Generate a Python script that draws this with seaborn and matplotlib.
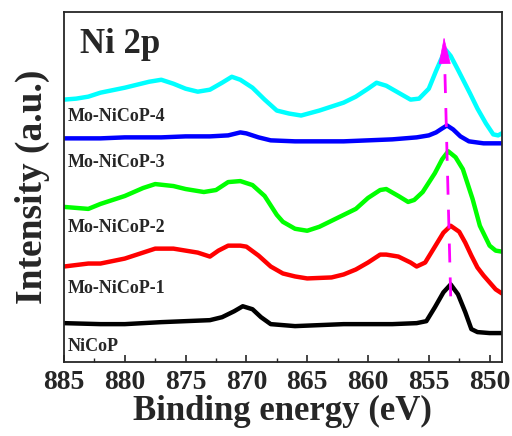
import numpy as np
import pandas as pd
import seaborn as sns
import matplotlib.pyplot as plt
from matplotlib.ticker import MultipleLocator

# Ni 2p XPS spectra (binding energy in eV, stacked intensity in a.u.)
e_nicop = [885, 882, 880, 877, 875, 873, 872, 871, 870.3, 869.5, 868.8, 868, 866, 864, 862,
           860, 858, 856, 855.2, 854.5, 853.8, 853.2, 852.6, 852.0, 851.5, 851, 850, 849]
i_nicop = [39, 38, 38, 40, 41, 42, 45, 51, 56, 53, 45, 38, 36, 37, 38,
           38, 38, 39, 41, 55, 70, 78, 68, 50, 33, 30, 29, 29]

e_mo1 = [885, 883, 882, 880, 878.5, 877.5, 876, 875, 874, 873, 872.3, 871.5, 870.5, 870, 869,
         868, 867, 866, 865, 863, 862, 861, 860, 859, 858.5, 857.5, 856.5, 856, 855.3, 854.5,
         853.8, 853.2, 852.5, 852, 851.5, 851, 850.5, 850, 849.5, 849]
i_mo1 = [96, 99, 99, 104, 110, 114, 114, 112, 110, 106, 112, 117, 117, 116, 107,
         96, 89, 86, 84, 85, 88, 93, 100, 108, 108, 106, 100, 96, 100, 116,
         130, 137, 131, 120, 107, 95, 87, 80, 73, 69]

e_mo2 = [885, 884, 883, 882, 880, 878.5, 877.5, 876, 875, 873.5, 872.5, 871.5, 870.5, 869.5,
         868.5, 867.5, 867, 866, 865, 864, 863, 862, 861, 860, 859, 858.5, 857.5, 856.7, 856.2,
         855.5, 854.5, 853.9, 853.4, 852.8, 852.2, 851.4, 850.8, 850, 849.5, 849]
i_mo2 = [156, 155, 154, 159, 167, 175, 179, 177, 174, 171, 173, 181, 182, 178,
         167, 148, 141, 134, 132, 136, 142, 148, 154, 165, 173, 174, 167, 161, 163,
         171, 190, 204, 212, 206, 194, 164, 137, 117, 112, 111]

e_mo3 = [885, 882, 880, 877, 875, 873, 871.5, 870.5, 870, 869, 868, 866, 864, 862, 860,
         858, 856, 855, 854.4, 853.9, 853.5, 853.0, 852.4, 851.7, 850.5, 849]
i_mo3 = [225, 225, 226, 226, 227, 227, 228, 231, 230, 226, 223, 222, 222, 222, 223,
         224, 226, 228, 231, 235, 238, 234, 227, 222, 220, 220]

e_mo4 = [885, 884, 883, 882, 880, 878, 877, 876, 875, 874, 873, 872, 871.2, 870.5, 869.5,
         868.5, 867.5, 866.5, 865.5, 864, 862, 861, 860, 859.3, 858.5, 857.5, 856.5, 855.8,
         855, 854.4, 853.9, 853.6, 853.2, 852.6, 851.6, 851, 850.3, 849.7, 849.3, 849]
i_mo4 = [264, 265, 267, 271, 276, 282, 284, 280, 275, 272, 274, 281, 287, 284, 276,
         264, 253, 250, 248, 253, 261, 267, 275, 281, 278, 271, 264, 265,
         275, 293, 307, 314, 308, 294, 270, 255, 240, 229, 228, 230]

samples = ["NiCoP", "Mo-NiCoP-1", "Mo-NiCoP-2", "Mo-NiCoP-3", "Mo-NiCoP-4"]
colors = ["#000000", "#ff0000", "#00ff00", "#0000ff", "#00ffff"]
label_y = [11, 69, 131, 196, 242]
energies = [e_nicop, e_mo1, e_mo2, e_mo3, e_mo4]
intensities = [i_nicop, i_mo1, i_mo2, i_mo3, i_mo4]

# Ni 2p3/2 peak shift marker (from NiCoP up to Mo-NiCoP-4)
shift_x = [853.2, 853.75]
shift_y = [66, 327]

frames = [pd.DataFrame({"energy": e, "intensity": i, "sample": s})
          for e, i, s in zip(energies, intensities, samples)]
df = pd.concat(frames, ignore_index=True)

sns.set_style("ticks")
plt.rcParams["font.family"] = ["Liberation Serif", "DejaVu Serif"]
plt.rcParams["font.weight"] = "bold"

fig = plt.figure(figsize=(5.12, 4.36), dpi=100)
ax = fig.add_axes([0.125, 0.17, 0.855, 0.802])

sns.lineplot(data=df, x="energy", y="intensity", hue="sample",
             palette=dict(zip(samples, colors)), linewidth=3.2,
             legend=False, sort=False, estimator=None, ax=ax)

for s, y in zip(samples, label_y):
    ax.text(884.7, y, s, fontsize=13, fontweight="bold", ha="left", va="baseline")

ax.text(883.7, 311, "Ni 2p", fontsize=25, fontweight="bold", ha="left", va="baseline")

# dashed guide with a solid arrow head on top
frac = 0.88
mid_x = shift_x[0] + frac * (shift_x[1] - shift_x[0])
mid_y = shift_y[0] + frac * (shift_y[1] - shift_y[0])
ax.plot([shift_x[0], mid_x], [shift_y[0], mid_y], color="#ff00ff",
        linewidth=2.0, linestyle=(0, (6.8, 5.4)), zorder=5)
head_base_y = shift_y[1] - 18
head_base_x = shift_x[1] + (shift_x[0] - shift_x[1]) * 18 / (shift_y[1] - shift_y[0])
ax.annotate("", xy=(shift_x[1], shift_y[1]), xytext=(head_base_x, head_base_y),
            arrowprops=dict(arrowstyle="-|>,head_length=1.8,head_width=0.4",
                            color="#ff00ff", lw=0.5, mutation_scale=10,
                            shrinkA=0, shrinkB=0), zorder=6)

ax.set_xlim(885, 849)
ax.set_ylim(0, 352)
ax.set_yticks([])
ax.xaxis.set_major_locator(MultipleLocator(5))
ax.xaxis.set_minor_locator(MultipleLocator(2.5))
ax.tick_params(axis="x", which="major", direction="in", length=5, width=1.2,
               labelsize=20, pad=6, top=False)
ax.tick_params(axis="x", which="minor", direction="in", length=3, width=1.0, top=False)
for sp in ax.spines.values():
    sp.set_linewidth(1.3)
    sp.set_visible(True)

ax.set_xlabel("Binding energy (eV)", fontsize=25, fontweight="bold", labelpad=0)
ax.set_ylabel("Intensity (a.u.)", fontsize=27, fontweight="bold", labelpad=10)
for lbl in ax.get_xticklabels():
    lbl.set_fontweight("bold")

fig.savefig("out.png", dpi=100)
